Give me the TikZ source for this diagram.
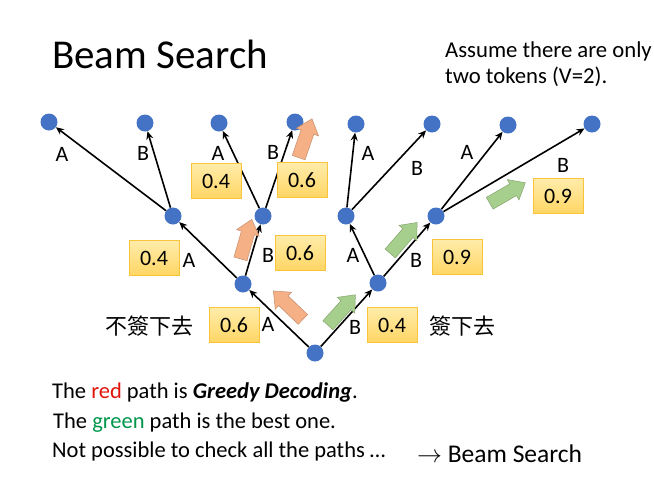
\documentclass[tikz,border=0pt]{standalone}
\usepackage{fontspec}
\setmainfont{Carlito}
\newfontfamily\cjk{Noto Sans CJK TC}
\usepackage{tikz}
\usetikzlibrary{arrows.meta,shapes.arrows}
\definecolor{dotblue}{RGB}{68,114,196}
\definecolor{boxtop}{RGB}{255,236,170}
\definecolor{boxbot}{RGB}{255,214,100}
\definecolor{boxline}{RGB}{250,195,60}
\definecolor{orng}{RGB}{245,176,134}
\definecolor{grn}{RGB}{166,206,140}
\definecolor{redtxt}{RGB}{225,20,10}
\definecolor{greentxt}{RGB}{0,150,75}
\tikzset{
  dot/.style={circle,fill=dotblue,minimum size=17pt,inner sep=0pt},
  arr/.style={-{Stealth[length=8pt,width=7pt]},line width=1.6pt},
  lbl/.style={font=\fontsize{22}{24}\selectfont,inner sep=0pt},
  box/.style={draw=boxline,line width=0.8pt,top color=boxtop,bottom color=boxbot,minimum width=50pt,minimum height=35pt,inner sep=0pt,font=\fontsize{22}{24}\selectfont},
  fat/.style={single arrow,single arrow head extend=5pt,single arrow tip angle=80,minimum height=41pt,inner sep=6.5pt,fill=#1,draw=#1!80!black,line width=0.5pt},
  txt/.style={anchor=base west,inner sep=0pt,font=\fontsize{22.5}{25}\selectfont},
}

\begin{document}
\begin{tikzpicture}[x=1pt,y=-1pt]
 \useasboundingbox (0,0) rectangle (654,480);
 % heading
 \node[txt,font=\fontsize{41}{44}\selectfont] (title) at (52,68) {Beam Search};
 \node[txt,font=\fontsize{22.7}{25}\selectfont] (asm1) at (445,57) {Assume there are only};
 \node[txt,font=\fontsize{22.7}{25}\selectfont] (asm2) at (445,83) {two tokens (V=2).};
 % tree
 \node[dot] (r) at (315,353) {};
 \node[dot] (a) at (243,284) {};
 \node[dot] (b) at (378,283) {};
 \node[dot] (aa) at (173,216) {};
 \node[dot] (ab) at (263,216) {};
 \node[dot] (ba) at (346,216) {};
 \node[dot] (bb) at (436,216) {};
 \node[dot] (aaa) at (49,122) {};
 \node[dot] (aab) at (145,123) {};
 \node[dot] (aba) at (219,123) {};
 \node[dot] (abb) at (295,122) {};
 \node[dot] (baa) at (356,124) {};
 \node[dot] (bab) at (432,124) {};
 \node[dot] (bba) at (508,125) {};
 \node[dot] (bbb) at (592,124) {};
 \draw[arr] (r)--(a); \draw[arr] (r)--(b);
 \draw[arr] (a)--(aa); \draw[arr] (a)--(ab);
 \draw[arr] (b)--(ba); \draw[arr] (b)--(bb);
 \draw[arr] (aa)--(aaa); \draw[arr] (aa)--(aab);
 \draw[arr] (ab)--(aba); \draw[arr] (ab)--(abb);
 \draw[arr] (ba)--(baa); \draw[arr] (ba)--(bab);
 \draw[arr] (bb)--(bba); \draw[arr] (bb)--(bbb);
 % token labels
 \node[lbl] (la) at (268,324) {A};
 \node[lbl] (lb) at (355,327) {B};
 \node[lbl] (laa) at (189,260) {A};
 \node[lbl] (lab) at (268,255) {B};
 \node[lbl] (lba) at (353,255) {A};
 \node[lbl] (lbb) at (416,260) {B};
 \node[lbl] (laaa) at (62,154) {A};
 \node[lbl] (laab) at (143,153) {B};
 \node[lbl] (laba) at (218,153) {A};
 \node[lbl] (labb) at (273,152) {B};
 \node[lbl] (lbaa) at (368,153) {A};
 \node[lbl] (lbab) at (417,168) {B};
 \node[lbl] (lbba) at (467,152) {A};
 \node[lbl] (lbbb) at (563,165) {B};
 % greedy (red) and best (green) paths
 \node[fat=orng,rotate=136] (o1) at (291,308) {};
 \node[fat=orng,rotate=74] (o2) at (245,243) {};
 \node[fat=orng,rotate=71] (o3) at (304,142) {};
 \node[fat=grn,rotate=48] (g1) at (339,313) {};
 \node[fat=grn,rotate=49] (g2) at (401,241) {};
 \node[fat=grn,rotate=30] (g3) at (504,195) {};
 % probabilities
 \node[box] (pa) at (234,325) {0.6};
 \node[box] (pb) at (392,325) {0.4};
 \node[box] (paa) at (154,258) {0.4};
 \node[box] (pab) at (300,253) {0.6};
 \node[box] (pbb) at (457,257) {0.9};
 \node[box] (paba) at (216,181) {0.4};
 \node[box] (pabb) at (302,180) {0.6};
 \node[box] (pbbb) at (558,196) {0.9};
 \node[font=\cjk\fontsize{22}{24}\selectfont,inner sep=0pt] (nosign) at (149,326) {不簽下去};
 \node[font=\cjk\fontsize{22}{24}\selectfont,inner sep=0pt] (sign) at (462,326) {簽下去};
 % notes
 \node[txt] (n1) at (52,398) {The \textcolor{redtxt}{red} path is \textbf{\textit{Greedy Decoding}}.};
 \node[txt] (n2) at (53,428) {The \textcolor{greentxt}{green} path is the best one.};
 \node[txt] (n3) at (52,457) {Not possible to check all the paths …};
 \node[txt,font=\fontsize{25.5}{28}\selectfont] (n4) at (417,462) {$\rightarrow$ Beam Search};
\end{tikzpicture}
\end{document}
